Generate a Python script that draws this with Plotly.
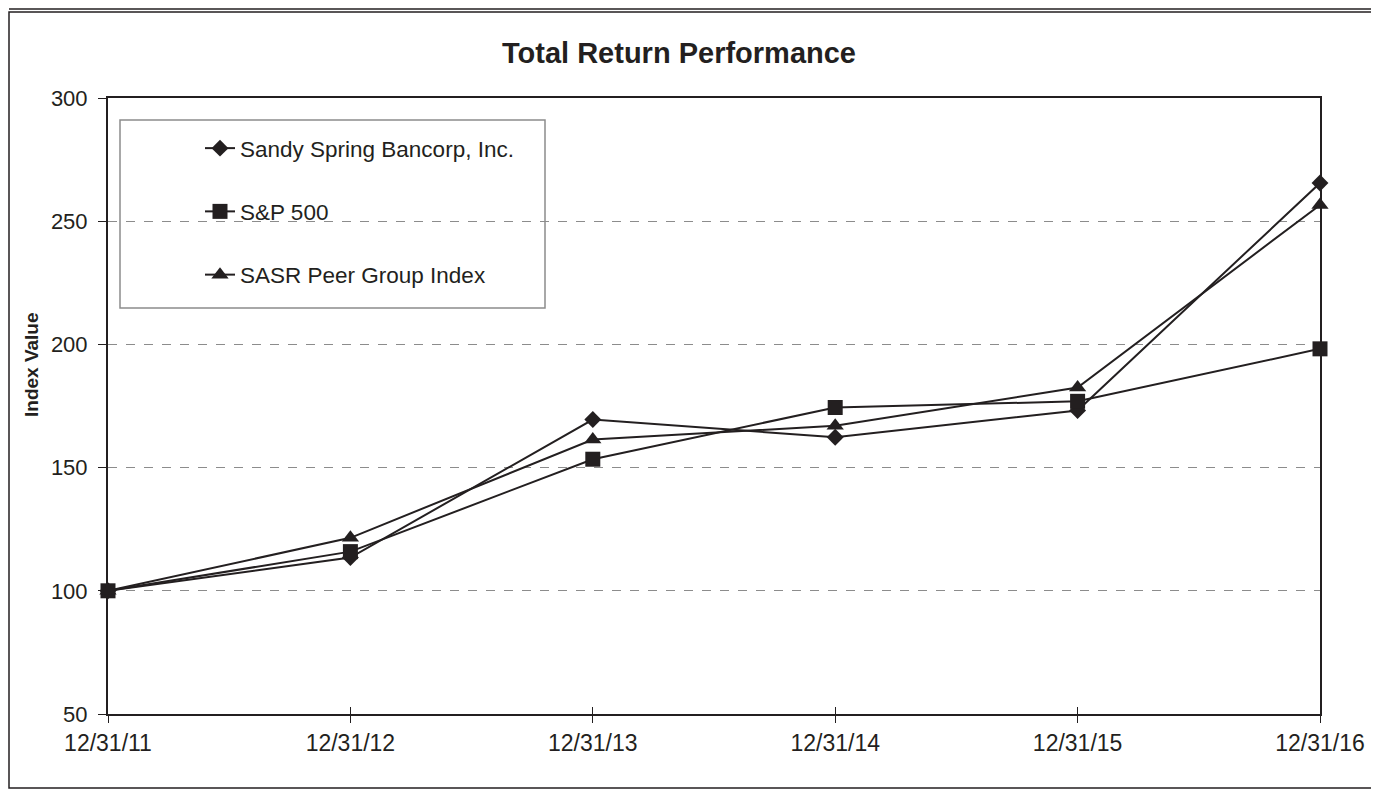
import plotly.graph_objects as go

dates = ["12/31/11", "12/31/12", "12/31/13", "12/31/14", "12/31/15", "12/31/16"]
sandy_spring = [100, 113.5, 169.5, 162.3, 173.2, 265.5]
sp500 = [100, 115.9, 153.4, 174.4, 176.9, 198.2]
peer_group = [100, 121.5, 161.4, 167.0, 182.5, 256.6]
y_ticks = [50, 100, 150, 200, 250, 300]

INK = "#231f20"
FONT = "Liberation Sans, Arial, sans-serif"
OFF = 8  # page body margin of the html page

fig = go.Figure()
series = [
    ("Sandy Spring Bancorp, Inc.", sandy_spring, "diamond", 13),
    ("S&P 500", sp500, "square", 15),
    ("SASR Peer Group Index", peer_group, "triangle-up", 15),
]
for i, (name, vals, sym, size) in enumerate(series):
    fig.add_trace(go.Scatter(
        x=dates, y=vals, name=name, mode="lines+markers",
        line=dict(color=INK, width=2),
        marker=dict(symbol=sym, size=size, color=INK, line=dict(width=0)),
        cliponaxis=False, legendgroup=f"g{i}",
    ))

# invisible helper trace so the overlay axis (inner tick marks) is drawn
fig.add_trace(go.Scatter(
    x=[0, len(dates) - 1], y=[y_ticks[0], y_ticks[0]], xaxis="x2", mode="markers",
    marker=dict(opacity=0), showlegend=False, hoverinfo="skip",
))

W0, W1, H0, H1 = 108, 1320, 98, 714  # plot area in page pixels
FW, FH = 1379 - OFF, 791 - OFF


def px(x):
    return (x - W0) / (W1 - W0)


def py(y):
    return (H1 - y) / (H1 - H0)


fig.update_layout(
    width=FW, height=FH,
    paper_bgcolor="white", plot_bgcolor="white",
    margin=dict(l=W0 - OFF, r=FW - (W1 - OFF), t=H0 - OFF, b=FH - (H1 - OFF)),
    font=dict(family=FONT, color=INK, size=20),
    title=dict(text="<b>Total Return Performance</b>", x=(679 - OFF) / FW, xref="container",
               xanchor="center", y=1 - (53 - OFF) / FH, yanchor="middle",
               font=dict(size=29, family=FONT, color=INK)),
    showlegend=True,
    legend=dict(x=px(200), y=py(127), xanchor="left", yanchor="top",
                bgcolor="rgba(0,0,0,0)", borderwidth=0,
                traceorder="grouped", tracegroupgap=31,
                font=dict(size=22.5, family=FONT, color=INK)),
    xaxis=dict(
        type="category", range=[0, 5], showgrid=False,
        showline=True, linecolor=INK, linewidth=2, mirror=True,
        ticks="outside", ticklen=7, tickcolor=INK, tickwidth=1,
        tickfont=dict(size=23, family=FONT, color=INK),
    ),
    xaxis2=dict(
        overlaying="x", anchor="y", side="bottom", type="linear", range=[0, 5],
        tickvals=[0, 1, 2, 3, 4, 5], ticks="inside", ticklen=7,
        tickcolor=INK, tickwidth=1, showticklabels=False,
        showline=False, showgrid=False, zeroline=False,
    ),
    yaxis=dict(
        range=[50, 300], tickvals=y_ticks,
        showgrid=True, gridcolor="#8c8c8c", griddash="dash", gridwidth=1,
        showline=True, linecolor=INK, linewidth=2, mirror=True,
        ticks="outside", ticklen=8, tickcolor=INK, tickwidth=1,
        ticklabelstandoff=6,
        tickfont=dict(size=22, family=FONT, color=INK),
        zeroline=False,
    ),
)

fig.add_annotation(text="<b>Index Value</b>", textangle=-90, xref="paper", yref="paper",
                   x=px(31), y=py(365), xanchor="center", yanchor="middle", showarrow=False,
                   font=dict(size=19, family=FONT, color=INK))

# legend box
fig.add_shape(type="rect", xref="paper", yref="paper",
              x0=px(120), x1=px(545), y0=py(120), y1=py(308),
              line=dict(color="#8c8c8c", width=1.5), fillcolor="rgba(0,0,0,0)", layer="above")
# outer frame
fig.add_shape(type="rect", xref="paper", yref="paper",
              x0=px(OFF + 1), x1=px(1376), y0=py(788), y1=py(OFF + 4),
              line=dict(color=INK, width=1.5), fillcolor="rgba(0,0,0,0)")
fig.add_shape(type="line", xref="paper", yref="paper",
              x0=px(OFF + 1), x1=px(1376), y0=py(OFF + 1), y1=py(OFF + 1),
              line=dict(color=INK, width=1.5))

fig.write_html("out.html")
